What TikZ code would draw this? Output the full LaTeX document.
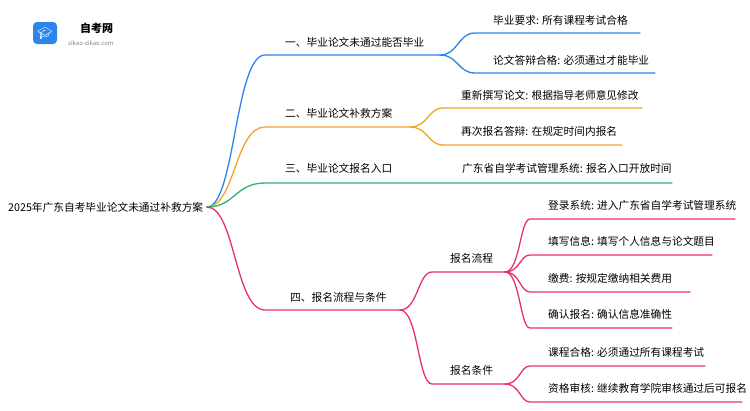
\documentclass[tikz,border=0pt]{standalone}
\usepackage{fontspec}
\setmainfont{Noto Sans CJK SC}
\newfontfamily\emo{Noto Emoji}
\definecolor{cb}{HTML}{2A86E8}
\definecolor{co}{HTML}{F0A528}
\definecolor{cg}{HTML}{2DB36A}
\definecolor{cp}{HTML}{E8306E}
\begin{document}
\begin{tikzpicture}[x=1pt,y=-1pt,
  txt/.style={font=\fontsize{10.7}{12}\selectfont,anchor=west,inner sep=0pt},
  ln/.style={line width=1.3pt,line cap=round}]
\useasboundingbox (0,0) rectangle (750,410);
% logo
\node[fill=cb,rounded corners=4pt,minimum width=24pt,minimum height=22pt] (logo) at (45,33) {};
\node[text=white,font=\emo\fontsize{12}{12}\selectfont] at (logo) {\symbol{"1F393}};
\node[txt,font=\fontsize{11}{12}\selectfont\bfseries] (lt) at (80,28) {自考网};
\node[txt,font=\fontsize{6}{7}\selectfont,text=gray] (lu) at (68,43) {zikao-zikao.com};
% root
\node[txt] (root) at (8,207) {2025年广东自考毕业论文未通过补救方案};
\coordinate (r) at (207,207);
% branch 1
\node[txt] (b1) at (285,42) {一、毕业论文未通过能否毕业};
\coordinate (b1s) at (265,55); \coordinate (b1e) at (440,55);
\draw[ln,cb] (r) .. controls (235,207) and (235,55) .. (b1s) -- (b1e);
\node[txt] (c11) at (493,20) {毕业要求: 所有课程考试合格};
\node[txt] (c12) at (493,60) {论文答辩合格: 必须通过才能毕业};
\coordinate (c11s) at (475,33); \coordinate (c11e) at (640,33);
\coordinate (c12s) at (475,73); \coordinate (c12e) at (655,73);
\draw[ln,cb] (b1e) .. controls (458,55) and (458,33) .. (c11s) -- (c11e);
\draw[ln,cb] (b1e) .. controls (458,55) and (458,73) .. (c12s) -- (c12e);
% branch 2
\node[txt] (b2) at (285,113) {二、毕业论文补救方案};
\coordinate (b2s) at (265,127); \coordinate (b2e) at (410,127);
\draw[ln,co] (r) .. controls (235,207) and (235,127) .. (b2s) -- (b2e);
\node[txt] (c21) at (461,95) {重新撰写论文: 根据指导老师意见修改};
\node[txt] (c22) at (461,131) {再次报名答辩: 在规定时间内报名};
\coordinate (c21s) at (443,108); \coordinate (c21e) at (642,108);
\coordinate (c22s) at (443,145); \coordinate (c22e) at (622,145);
\draw[ln,co] (b2e) .. controls (428,127) and (428,108) .. (c21s) -- (c21e);
\draw[ln,co] (b2e) .. controls (428,127) and (428,145) .. (c22s) -- (c22e);
% branch 3
\node[txt] (b3) at (285,168) {三、毕业论文报名入口};
\coordinate (b3s) at (265,183); \coordinate (b3e) at (410,183);
\node[txt] (c31) at (462,168) {广东省自学考试管理系统: 报名入口开放时间};
\coordinate (c31s) at (443,183); \coordinate (c31e) at (672,183);
\draw[ln,cg] (r) .. controls (235,207) and (235,183) .. (b3s) -- (b3e) -- (c31s) -- (c31e);
% branch 4
\node[txt] (b4) at (290,297) {四、报名流程与条件};
\coordinate (b4s) at (265,310); \coordinate (b4e) at (400,310);
\draw[ln,cp] (r) .. controls (235,207) and (235,310) .. (b4s) -- (b4e);
\node[txt] (d1) at (450,258) {报名流程};
\node[txt] (d2) at (450,370) {报名条件};
\coordinate (d1s) at (432,272); \coordinate (d1e) at (505,272);
\coordinate (d2s) at (432,384); \coordinate (d2e) at (505,384);
\draw[ln,cp] (b4e) .. controls (418,310) and (418,272) .. (d1s) -- (d1e);
\draw[ln,cp] (b4e) .. controls (418,310) and (418,384) .. (d2s) -- (d2e);
\node[txt] (e1) at (548,205) {登录系统: 进入广东省自学考试管理系统};
\node[txt] (e2) at (548,241) {填写信息: 填写个人信息与论文题目};
\node[txt] (e3) at (548,278) {缴费: 按规定缴纳相关费用};
\node[txt] (e4) at (548,314) {确认报名: 确认信息准确性};
\node[txt] (e5) at (548,352) {课程合格: 必须通过所有课程考试};
\node[txt] (e6) at (548,388) {资格审核: 继续教育学院审核通过后可报名};
\foreach \n/\y/\xe/\d in {e1/219/735/d1e,e2/255/712/d1e,e3/292/690/d1e,e4/328/672/d1e,e5/366/705/d2e,e6/402/742/d2e}{
  \coordinate (\n s) at (530,\y);
  \draw[ln,cp] (\d) .. controls (520,0|-\d) and (520,\y) .. (\n s) -- (\xe,\y);
}
\end{tikzpicture}
\end{document}
